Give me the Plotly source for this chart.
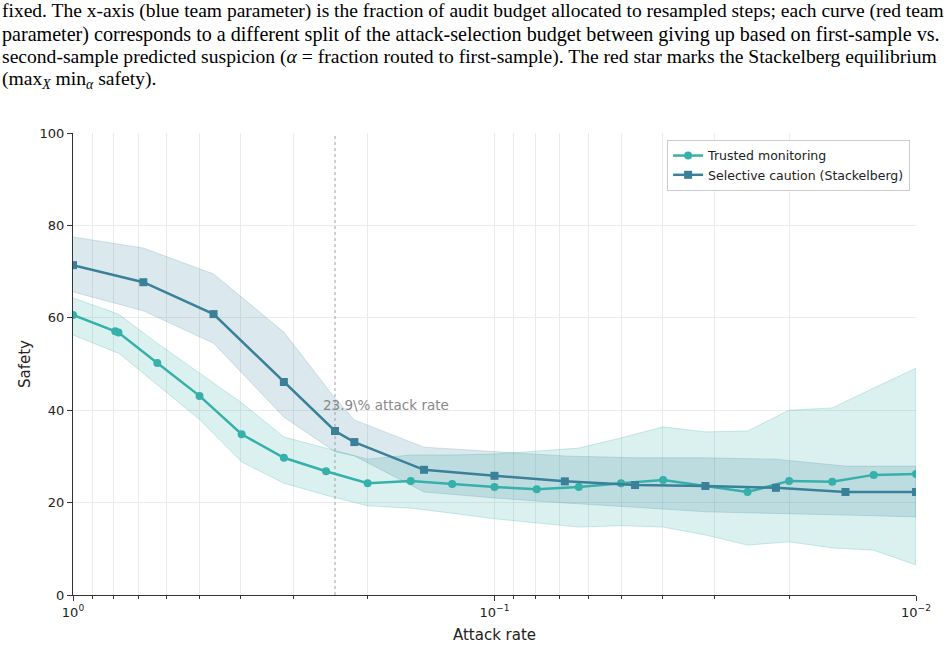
import numpy as np
import plotly.graph_objects as go

# trusted monitoring (teal)
tm_rate = [1.0, 0.794, 0.78, 0.631, 0.501, 0.398, 0.316, 0.251, 0.2, 0.158, 0.126, 0.1,
           0.0794, 0.0631, 0.0501, 0.0398, 0.0316, 0.0251, 0.02, 0.0158, 0.0126, 0.01]
tm_safety = [60.6, 57.1, 56.8, 50.2, 43.1, 34.8, 29.7, 26.8, 24.2, 24.7, 24.0, 23.4,
             22.9, 23.4, 24.2, 24.9, 23.6, 22.3, 24.7, 24.5, 26.0, 26.2]
tm_upper = [64.3, 61.0, 60.8, 54.5, 48.1, 41.6, 34.2, 31.8, 29.4, 30.3, 30.3, 30.5,
            31.2, 31.8, 34.0, 36.4, 35.3, 35.5, 40.0, 40.5, 44.8, 49.1]
tm_lower = [56.3, 52.6, 52.4, 45.5, 38.0, 28.8, 24.2, 21.6, 19.3, 18.8, 17.7, 16.5,
            15.6, 14.7, 15.0, 14.7, 13.0, 10.8, 11.5, 10.2, 9.7, 6.5]

# selective caution (Stackelberg)
sc_rate = [1.0, 0.681, 0.464, 0.316, 0.239, 0.215, 0.147, 0.1, 0.0681, 0.0464,
           0.0316, 0.0215, 0.0147, 0.01]
sc_safety = [71.4, 67.7, 60.8, 46.1, 35.5, 33.1, 27.1, 25.8, 24.6, 23.8, 23.6, 23.2, 22.3, 22.3]
sc_upper = [77.5, 75.1, 69.5, 56.9, 42.6, 37.9, 32.0, 31.0, 30.1, 29.7, 29.7, 29.4, 27.9, 27.9]
sc_lower = [65.6, 61.5, 54.5, 38.5, 31.0, 30.1, 22.3, 21.0, 19.9, 19.0, 18.0, 17.7, 17.3, 16.9]

eq_rate = 0.239

caption = [
    "fixed. The x-axis (blue team parameter) is the fraction of audit budget allocated to resampled steps; each curve (red team",
    "parameter) corresponds to a different split of the attack-selection budget between giving up based on first-sample vs.",
    "second-sample predicted suspicion (<i>α</i> = fraction routed to first-sample). The red star marks the Stackelberg equilibrium",
    "(max<sub><i>X</i></sub> min<sub><i>α</i></sub> safety).",
]
caption_size = [19.5, 20.1, 19.6, 19.6]

TEAL = "#35b0aa"
STEEL = "#3a8099"

W, H = 951, 646
L, R, T, B = 73, 35, 133, 51
pw, ph = W - L - R, H - T - B

def px_x(p):
    return (p - L) / pw

def px_y(p):
    return (H - B - p) / ph

fig = go.Figure()

# bands
fig.add_trace(go.Scatter(x=tm_rate + tm_rate[::-1], y=tm_upper + tm_lower[::-1],
                         fill="toself", fillcolor="rgba(53,176,170,0.18)",
                         line=dict(color="rgba(53,176,170,0.25)", width=1),
                         hoverinfo="skip", showlegend=False))
fig.add_trace(go.Scatter(x=sc_rate + sc_rate[::-1], y=sc_upper + sc_lower[::-1],
                         fill="toself", fillcolor="rgba(58,128,153,0.18)",
                         line=dict(color="rgba(58,128,153,0.2)", width=1),
                         hoverinfo="skip", showlegend=False))

# equilibrium line
fig.add_trace(go.Scatter(x=[eq_rate, eq_rate], y=[0, 100], mode="lines",
                         line=dict(color="#a0a0a0", width=1, dash="dot"),
                         hoverinfo="skip", showlegend=False))

fig.add_trace(go.Scatter(x=tm_rate, y=tm_safety, mode="lines+markers", name="Trusted monitoring",
                         line=dict(color=TEAL, width=2.5),
                         marker=dict(symbol="circle", size=8, color=TEAL)))
fig.add_trace(go.Scatter(x=sc_rate, y=sc_safety, mode="lines+markers",
                         name="Selective caution (Stackelberg)",
                         line=dict(color=STEEL, width=2.5),
                         marker=dict(symbol="square", size=8, color=STEEL)))

minor_vals = [m * 10.0 ** e for e in (-1, -2) for m in range(2, 10)]

fig.update_xaxes(type="log", range=[0, -2], automargin=False,
                 tickvals=[1, 0.1, 0.01],
                 ticktext=["10<sup>0</sup>", "10<sup>−1</sup>", "10<sup>−2</sup>"],
                 ticks="outside", ticklen=5, tickcolor="#333333",
                 showline=True, linecolor="#333333", linewidth=1,
                 showgrid=True, gridcolor="#ebebeb", gridwidth=1,
                 minor=dict(tickvals=minor_vals, showgrid=True, gridcolor="#ebebeb",
                            ticks="outside", ticklen=3, tickcolor="#333333"),
                 zeroline=False,
                 title=dict(text="Attack rate", font=dict(size=15, color="#222222"), standoff=10),
                 tickfont=dict(size=13, color="#222222"))
fig.update_yaxes(range=[0, 100], tickvals=[0, 20, 40, 60, 80, 100], automargin=False,
                 ticks="outside", ticklen=5, tickcolor="#333333",
                 showline=True, linecolor="#333333", linewidth=1,
                 showgrid=True, gridcolor="#ebebeb", zeroline=False,
                 title=dict(text="Safety", font=dict(size=15, color="#222222"), standoff=5),
                 tickfont=dict(size=13, color="#222222"))

annotations = [dict(x=np.log10(eq_rate) + 0.033, y=41.1, xref="x", yref="y",
                    text="23.9\\% attack rate", showarrow=False, xanchor="left",
                    font=dict(size=13.5, color="#888888"))]
cap_y = [11, 34, 57, 80]
for line, yy, sz in zip(caption, cap_y, caption_size):
    annotations.append(dict(x=px_x(0), y=px_y(yy), xref="paper", yref="paper",
                            text=line, showarrow=False, xanchor="left", yanchor="middle",
                            font=dict(family="Liberation Serif", size=sz, color="black")))

fig.update_layout(width=W, height=H, margin=dict(l=L, r=R, t=T, b=B),
                  plot_bgcolor="white", paper_bgcolor="white",
                  font=dict(family="DejaVu Sans", color="#222222"),
                  annotations=annotations,
                  legend=dict(x=0.993, y=0.985, xanchor="right", yanchor="top",
                              bgcolor="rgba(255,255,255,0.9)", bordercolor="#cccccc",
                              borderwidth=1, font=dict(size=12.5, color="#222222"),
                              tracegroupgap=0, itemwidth=30))

# drop the default 8px body margin so the figure sits at the window corner
fig.write_html("out.html", config={"displayModeBar": False},
               post_script="document.body.style.margin='0';")
